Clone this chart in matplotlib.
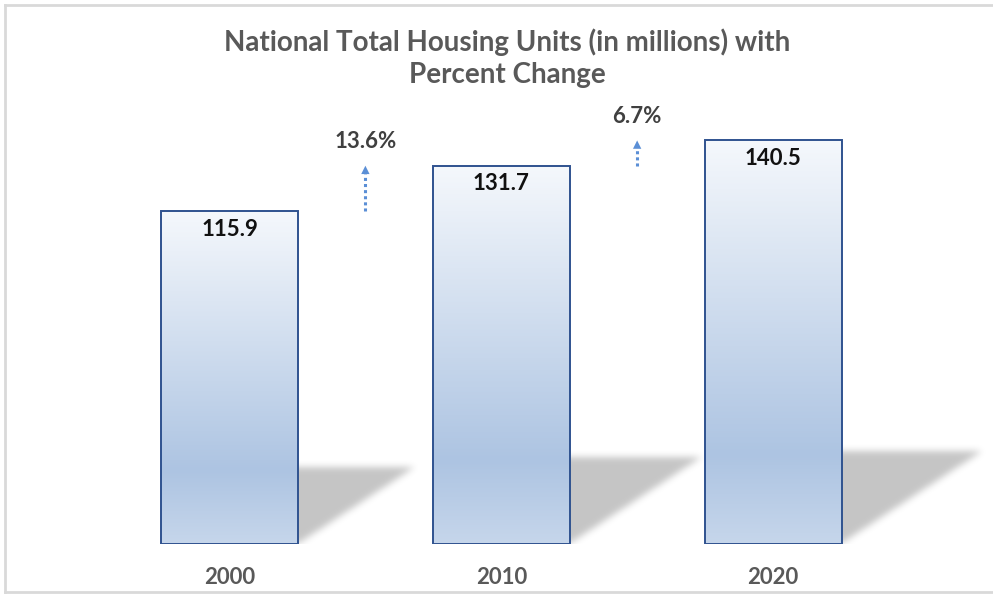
import numpy as np
import matplotlib.pyplot as plt
from matplotlib.colors import LinearSegmentedColormap
from matplotlib.lines import Line2D
from matplotlib.path import Path

# data
years = ["2000", "2010", "2020"]
units = [115.9, 131.7, 140.5]          # millions of housing units
pct_labels = ["13.6%", "6.7%"]         # change between consecutive years

plt.rcParams['font.family'] = ['Lato', 'DejaVu Sans']

W, H = 993, 595
fig = plt.figure(figsize=(W / 100, H / 100), dpi=100)
ax = fig.add_axes([6 / W, 51 / H, 982 / W, 517 / H])

x = np.arange(len(years))
bar_w = 0.504
xlim = (-0.8224, 2.791)
ylim = (0, 180)

# ── soft diagonal shadows behind each bar ──
nx, ny = 982, 517
gx = np.linspace(xlim[0], xlim[1], nx)
gy = np.linspace(ylim[0], ylim[1], ny)
GX, GY = np.meshgrid(gx, gy)
pts = np.column_stack([GX.ravel(), GY.ravel()])
mask = np.zeros(GX.size)
for xi, h in zip(x, units):
    xr = xi + bar_w / 2
    sh_w = 0.0037 * h
    sh_h = 0.23 * h
    poly = Path([(xi, 0), (xr, 0), (xr + sh_w, sh_h), (xi, sh_h), (xi, 0)])
    mask = np.maximum(mask, poly.contains_points(pts).astype(float))
mask = mask.reshape(ny, nx)

k = np.exp(-0.5 * (np.arange(-12, 13) / 3.5) ** 2)
k /= k.sum()
blur = np.apply_along_axis(lambda m: np.convolve(m, k, mode='same'), 0, mask)
blur = np.apply_along_axis(lambda m: np.convolve(m, k, mode='same'), 1, blur)

shadow = np.zeros((ny, nx, 4))
shadow[..., 3] = 0.23 * blur
ax.imshow(shadow, extent=[xlim[0], xlim[1], ylim[0], ylim[1]], origin='lower',
          aspect='auto', interpolation='bilinear', zorder=1)

# ── gradient-filled bars ──
cmap = LinearSegmentedColormap.from_list(
    "bar", [(0.0, "#f5f8fc"), (0.78, "#adc4e2"), (1.0, "#c6d6eb")])
grad = np.linspace(0, 1, 256).reshape(-1, 1)

bars = ax.bar(x, units, width=bar_w, facecolor='none',
              edgecolor='#2f528f', linewidth=1.4, zorder=3)
for b, h in zip(bars, units):
    im = ax.imshow(grad, extent=[b.get_x(), b.get_x() + b.get_width(), 0, h],
                   aspect='auto', cmap=cmap, zorder=2, interpolation='bilinear')
    im.set_clip_path(b)

# value labels inside the bars
for xi, h in zip(x, units):
    ax.text(xi, h - 6.3, f"{h:.1f}", ha='center', va='center',
            fontsize=16, fontweight='bold', color='#111111', zorder=4)

# year labels under the bars
for xi, yr in zip(x, years):
    ax.text(xi, -11.8, yr, ha='center', va='center', fontsize=16,
            fontweight='bold', color='#595959', clip_on=False)

# dotted arrows with percent change
arrow_c = '#5b8fd6'
for i, lab in enumerate(pct_labels):
    xm = (x[i] + x[i + 1]) / 2
    y0, y1 = units[i], units[i + 1]
    ax.plot([xm, xm], [y0, y1 - 3.0], ls=(0, (1, 1)), lw=2.2,
            color=arrow_c, solid_capstyle='butt', dash_capstyle='butt', zorder=3)
    ax.annotate('', xy=(xm, y1), xytext=(xm, y1 - 3.0),
                arrowprops=dict(arrowstyle='-|>', color=arrow_c, lw=0,
                                mutation_scale=15, shrinkA=0, shrinkB=0))
    ax.annotate(lab, xy=(xm, y1), xytext=(0, 17.5), textcoords='offset points',
                ha='center', va='center', fontsize=16, fontweight='bold',
                color='#404040')

ax.set_xlim(*xlim)
ax.set_ylim(*ylim)
ax.axis('off')

# title
fig.text(507 / W, 1 - 42 / H, "National Total Housing Units (in millions) with",
         ha='center', va='center', fontsize=20, fontweight='bold', color='#595959')
fig.text(507 / W, 1 - 75 / H, "Percent Change",
         ha='center', va='center', fontsize=20, fontweight='bold', color='#595959')

# light frame around the chart area
frame = dict(color='#d9d9d9', lw=2, transform=fig.transFigure)
fig.add_artist(Line2D([5 / W, 5 / W], [3 / H, 1 - 5 / H], **frame))
fig.add_artist(Line2D([5 / W, 1], [1 - 5 / H, 1 - 5 / H], **frame))
fig.add_artist(Line2D([5 / W, 1], [3 / H, 3 / H], **frame))

fig.savefig("out.png", dpi=100)
